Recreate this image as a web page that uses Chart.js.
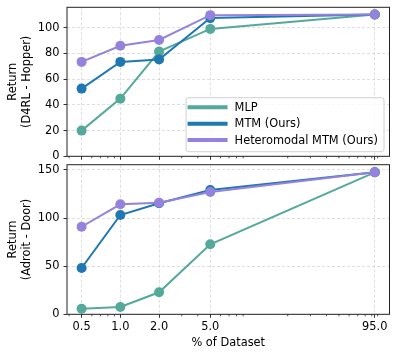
<!DOCTYPE html>
<html><head><meta charset="utf-8">
<script src="https://cdn.jsdelivr.net/npm/chart.js@4"></script>
<style>
body{margin:0;background:#fff;width:398px;height:357px;overflow:hidden;position:relative}
canvas{position:absolute;left:0}
#c1{top:0}
#c2{top:160px}
</style></head>
<body>
<canvas id="c1" width="398" height="160"></canvas>
<canvas id="c2" width="398" height="197"></canvas>
<script>
// ---- data ----
const xValues = [0.5, 1, 2, 5, 95];
const xTickLabels = ['0.5', '1.0', '2.0', '5.0', '95.0'];
const xMinorTicks = [0.4, 0.6, 0.7, 0.8, 0.9, 3, 4, 6, 7, 8, 9, 20, 30, 40, 50, 60, 70, 80, 90, 100];
const seriesNames = ['MLP', 'MTM (Ours)', 'Heteromodal MTM (Ours)'];
const seriesColors = ['#55a99a', '#1f77b4', '#9582dc'];

const hopperMLP = [20.0, 44.9, 81.5, 99.2, 110.4];
const hopperMTM = [52.7, 73.5, 75.3, 107.6, 110.4];
const hopperHetero = [73.5, 86.0, 90.6, 109.9, 110.4];
const hopperYTicks = [0, 20, 40, 60, 80, 100];

const doorMLP = [5.8, 7.6, 22.9, 72.8, 147.6];
const doorMTM = [48.1, 103.2, 115.4, 129.2, 147.6];
const doorHetero = [91.0, 114.3, 116.0, 127.1, 147.6];
const doorYTicks = [0, 50, 100, 150];

// ---- style ----
const FONT = "'DejaVu Sans', sans-serif";
const FS = 11.4;
Chart.defaults.font.family = FONT;
Chart.defaults.font.size = FS;
Chart.defaults.color = '#000';
const gridColor = 'rgba(176,176,176,0.5)';
const spineColor = '#222';

const framePlugin = {
  id: 'frame',
  afterDatasetsDraw(chart) {
    const a = chart.chartArea, ctx = chart.ctx;
    ctx.save();
    ctx.strokeStyle = spineColor;
    ctx.lineWidth = 1;
    ctx.strokeRect(a.left, a.top, a.right - a.left, a.bottom - a.top);
    // minor ticks on x
    const xs = chart.scales.x;
    ctx.beginPath();
    ctx.lineWidth = 0.8;
    xMinorTicks.forEach(v => {
      const px = xs.getPixelForValue(v);
      if (px >= a.left - 0.5 && px <= a.right + 0.5) {
        ctx.moveTo(px, a.bottom);
        ctx.lineTo(px, a.bottom + 2);
      }
    });
    ctx.stroke();
    ctx.restore();
  }
};

const legendPlugin = {
  id: 'innerLegend',
  afterDraw(chart, args, opts) {
    if (!opts.show) return;
    const a = chart.chartArea, ctx = chart.ctx;
    ctx.save();
    ctx.font = FS + 'px ' + FONT;
    const labels = chart.data.datasets.map(d => d.label);
    const colors = chart.data.datasets.map(d => d.borderColor);
    const tw = Math.max(...labels.map(l => ctx.measureText(l).width));
    const handle = 40, gap = 7, padL = 1.5, padR = 6;
    const w = padL + handle + gap + tw + padR;
    const rowH = 16.4;
    const h = 54;
    const right = a.right - 5.5, bottom = a.bottom - 4.6;
    const left = right - w, top = bottom - h;
    ctx.beginPath();
    if (ctx.roundRect) ctx.roundRect(left, top, w, h, 2.5); else ctx.rect(left, top, w, h);
    ctx.fillStyle = 'rgba(255,255,255,0.8)';
    ctx.fill();
    ctx.strokeStyle = '#d0d0d0';
    ctx.lineWidth = 1;
    ctx.stroke();
    labels.forEach((l, i) => {
      const y = top + 9.6 + i * rowH;
      ctx.beginPath();
      ctx.strokeStyle = colors[i];
      ctx.lineWidth = 4;
      ctx.moveTo(left + padL, y);
      ctx.lineTo(left + padL + handle, y);
      ctx.stroke();
      ctx.fillStyle = '#000';
      ctx.textBaseline = 'middle';
      ctx.fillText(l, left + padL + handle + gap, y + 0.5);
    });
    ctx.restore();
  }
};

function makeChart(id, series, yTicks, yMax, ySub, bottom, pad, xHeight) {
  return new Chart(document.getElementById(id), {
    type: 'line',
    data: {
      labels: xValues,
      datasets: series.map((s, i) => ({
        label: seriesNames[i],
        data: xValues.map((x, j) => ({x: x, y: s[j]})),
        borderColor: seriesColors[i],
        backgroundColor: seriesColors[i],
        borderWidth: 2,
        pointRadius: 5,
        pointBorderWidth: 0,
        pointHoverRadius: 5,
        fill: false,
        tension: 0,
        order: 3 - i
      }))
    },
    options: {
      responsive: false,
      animation: false,
      devicePixelRatio: 1,
      layout: {padding: pad, autoPadding: false},
      plugins: {legend: {display: false}, tooltip: {enabled: false}, innerLegend: {show: !bottom}},
      scales: {
        x: {
          type: 'logarithmic',
          min: 0.385, max: 123.6,
          afterBuildTicks: s => { s.ticks = xValues.map(v => ({value: v})); },
          afterFit: s => { s.height = xHeight; s.paddingLeft = 0; s.paddingRight = 0; s.paddingTop = 0; s.paddingBottom = 0; },
          ticks: {
            display: bottom, autoSkip: false, maxRotation: 0, padding: 2,
            callback: v => { const k = xValues.indexOf(v); return k >= 0 ? xTickLabels[k] : ''; }
          },
          grid: {color: gridColor, lineWidth: 0.8, tickColor: '#000', tickLength: 3.5, tickWidth: 0.8},
          border: {display: false, dash: [3, 2]},
          title: {display: bottom, text: '% of Dataset', padding: {top: 2, bottom: 7.5}}
        },
        y: {
          min: 0, max: yMax,
          afterBuildTicks: s => { s.ticks = yTicks.map(v => ({value: v})); },
          afterFit: s => { s.width = 67; s.paddingTop = 0; s.paddingBottom = 0; s.paddingLeft = 0; s.paddingRight = 0; },
          ticks: {padding: 4},
          grid: {color: gridColor, lineWidth: 0.8, tickColor: '#000', tickLength: 3.5, tickWidth: 0.8},
          border: {display: false, dash: [3, 2]},
          title: {display: true, text: ['Return', ySub], padding: {top: 6, bottom: 0}, font: {lineHeight: 1.22}}
        }
      }
    },
    plugins: [framePlugin, legendPlugin]
  });
}

makeChart('c1', [hopperMLP, hopperMTM, hopperHetero], hopperYTicks, 116, '(D4RL - Hopper)', false,
  {top: 7.3, right: 8.5, left: 0, bottom: 0}, 3.7);
makeChart('c2', [doorMLP, doorMTM, doorHetero], doorYTicks, 155.5, '(Adroit - Door)', true,
  {top: 4.7, right: 8.5, left: 0, bottom: 0}, 42.7);
</script>
</body></html>
